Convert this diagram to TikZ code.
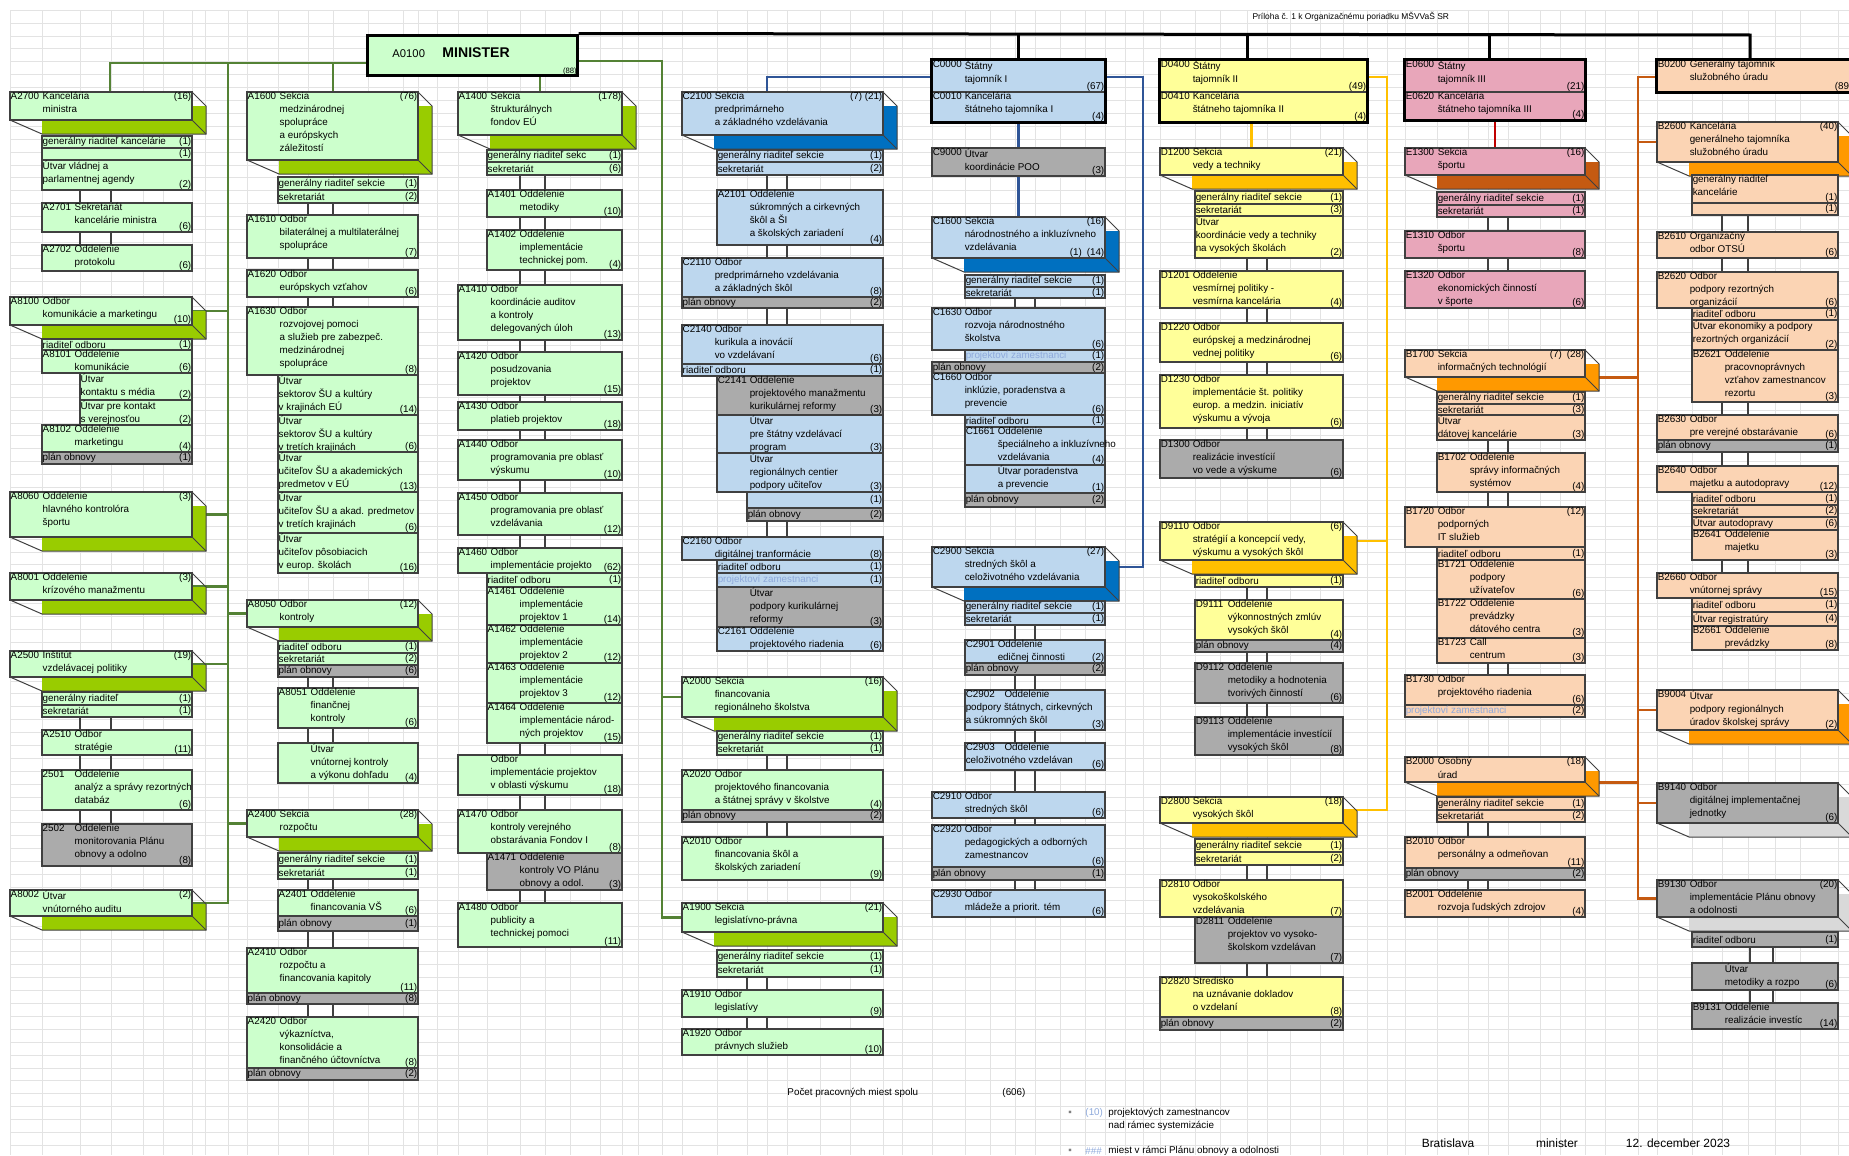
\documentclass[tikz,border=0pt]{standalone}
\usepackage{fontspec}
\setmainfont{Liberation Sans}
\usetikzlibrary{fit, positioning}

\definecolor{gfill}{HTML}{CCFFCC}
\definecolor{gslab}{HTML}{99CC00}
\definecolor{bfill}{HTML}{BDD7EE}
\definecolor{bslab}{HTML}{0070C0}
\definecolor{yfill}{HTML}{FFFF99}
\definecolor{yslab}{HTML}{FFC000}
\definecolor{pfill}{HTML}{E8A6BA}
\definecolor{pslab}{HTML}{C55A11}
\definecolor{ofill}{HTML}{FBD4B4}
\definecolor{oslab}{HTML}{FF9900}
\definecolor{kfill}{HTML}{ABABAB}
\definecolor{kslab}{HTML}{D9D9D9}
\definecolor{ucol}{HTML}{404040}
\definecolor{gridc}{HTML}{E3E3E3}
\definecolor{glinec}{HTML}{548235}
\definecolor{blinec}{HTML}{2F5597}
\definecolor{ylinec}{HTML}{FFC000}
\definecolor{rlinec}{HTML}{C00000}
\definecolor{olinec}{HTML}{C55A11}
\definecolor{projc}{HTML}{8EA9DB}

\pgfdeclarelayer{grid}
\pgfdeclarelayer{links}
\pgfsetlayers{grid,links,main}

\newcommand\ufont{\fontsize{14}{18.5}\selectfont}

% plain box: name, x1, y1, x2, y2, colour, code, text, count
\newcommand\orgbox[9]{%
  \node[ubox, fill=#6fill, fit={(#2,#3) (#4,#5)}] (#1) {};
  \if\relax\detokenize{#7}\relax
    \node[utext] (#1t) at (#1.north west) {#8};
  \else
    \node[ucode] (#1c) at (#1.north west) {#7};
    \node[utext] (#1t) at ([xshift=16mm]#1.north west) {#8};
  \fi
  \node[ucount] (#1n) at (#1.south east) {#9};}

% one line row: name, x1, y1, x2, y2, colour, text, count
\newcommand\orgrow[8]{%
  \node[ubox, fill=#6fill, fit={(#2,#3) (#4,#5)}] (#1) {};
  \node[utext, anchor=west] (#1t) at (#1.west) {#7};
  \node[ucount, anchor=east] (#1n) at (#1.east) {#8};}

% box with depth (sekcia)
\newcommand\cpos{north east}
\newcommand\orgsek{\renewcommand\cpos{north east}\orgsekdraw}
\newcommand\orgsekb{\renewcommand\cpos{south east}\orgsekdraw}
\newcommand\orgsekdraw[9]{%
  \fill[#6slab] (#2+32,#5) -- (#2+32,#5+14) -- (#4+14,#5+14) -- (#4+14,#3+14) -- (#4,#3+14) -- (#4,#5) -- cycle;
  \draw[uline] (#2,#5) -- (#2+32,#5+14) -- (#4+14,#5+14) -- (#4+14,#3+14) -- (#4,#3);
  \draw[uline] (#4,#5) -- (#4+14,#5+14);
  \node[ubox, fill=#6fill, fit={(#2,#3) (#4,#5)}] (#1) {};
  \node[ucode] (#1c) at (#1.north west) {#7};
  \node[utext] (#1t) at ([xshift=16mm]#1.north west) {#8};
  \node[ucount, anchor=\cpos] (#1n) at (#1.\cpos) {#9};}

% double link between two boxes
\newcommand\twolink[4]{%
  \draw[dlink] (#3,0 |- #1.south) -- (#3,0 |- #2.north) (#4,0 |- #1.south) -- (#4,0 |- #2.north);}

\begin{document}
\begin{tikzpicture}[x=0.5mm, y=-0.5mm,
    ubox/.style={draw=ucol, line width=0.6mm, inner sep=0pt, rectangle},
    utext/.style={anchor=north west, inner sep=0.6mm, align=left, font=\ufont},
    ucode/.style={anchor=north west, inner sep=0.6mm, font=\ufont},
    ucount/.style={anchor=south east, inner sep=0.6mm, font=\ufont},
    uline/.style={draw=ucol, line width=0.5mm},
    dlink/.style={draw=ucol, line width=0.6mm},
    bigbox/.style={draw=black, line width=1.5mm},
    topline/.style={draw=black, line width=1.5mm},
    gline/.style={draw=glinec, line width=1.2mm},
    bline/.style={draw=blinec, line width=1.2mm},
    yline/.style={draw=ylinec, line width=1.2mm},
    rline/.style={draw=rlinec, line width=1.2mm},
    oline/.style={draw=olinec, line width=1.2mm},
    gridl/.style={draw=gridc, line width=0.25mm},
    sfont/.style={font=\fontsize{12}{12}\selectfont},
    lfont/.style={font=\fontsize{14}{14}\selectfont},
    bfont/.style={font=\fontsize{17}{17}\selectfont}]

\useasboundingbox (0,0) rectangle (1849,1155);
\clip (0,0) rectangle (1849,1155);

\begin{pgfonlayer}{grid}
  \foreach \gx in {10,42,80,111,143,163,192,205,228,247,278,308,333,368,403,418,437,458,487,520,545,570,600,622,638,662,682,717,747,767,787,820,850,883,902,932,965,990,1015,1035,1060,1085,1105,1125,1143,1160,1195,1220,1247,1267,1290,1320,1343,1367,1387,1405,1437,1468,1488,1508,1540,1560,1585,1605,1638,1657,1692,1722,1748,1775,1800,1838}
    \draw[gridl] (\gx,10) -- (\gx,1155);
  \foreach \gy in {10,22.9,...,1155}
    \draw[gridl] (10,\gy) -- (1849,\gy);
\end{pgfonlayer}

\node[sfont, anchor=west] (title) at (1250,17) {Príloha č. 1 k Organizačnému poriadku MŠVVaŠ SR};

% minister
\node[bigbox, fill=gfill, inner sep=0pt, fit={(367,35) (577,75)}] (min) {};
\node[anchor=west, font=\fontsize{16}{16}\selectfont] (minc) at (390,54) {A0100};
\node[anchor=west, font=\bfseries\fontsize{20}{20}\selectfont] (mint) at (440,53) {MINISTER};
\node[anchor=south east, inner sep=0.8mm, font=\fontsize{11}{11}\selectfont] (minn) at (min.south east) {(88)};

% column 1
\orgsek{a2700}{10}{92}{192}{120}{g}{A2700}{Kancelária\\ministra}{(16)}
\orgrow{a2700r1}{42}{136}{192}{148}{g}{generálny riaditeľ kancelárie}{(1)}
\orgrow{a2700r2}{42}{148}{192}{160}{g}{}{(1)}
\orgbox{a2700u}{42}{160}{192}{190}{g}{}{Útvar vládnej a\\parlamentnej  agendy}{(2)}
\orgbox{a2701}{42}{203}{192}{232}{g}{A2701}{Sekretariát\\kancelárie ministra}{(6)}
\orgbox{a2702}{42}{245}{192}{271}{g}{A2702}{Oddelenie\\protokolu}{(6)}
\orgsekb{a8100}{10}{297}{192}{325}{g}{A8100}{Odbor\\komunikácie a marketingu}{(10)}
\orgrow{a8100r1}{42}{339}{192}{350}{g}{riaditeľ odboru}{(1)}
\orgbox{a8101}{42}{350}{192}{373}{g}{A8101}{Oddelenie\\komunikácie}{(6)}
\orgbox{a8101a}{80}{373}{192}{400}{g}{}{Útvar\\kontaktu s média}{(2)}
\orgbox{a8101b}{80}{400}{192}{425}{g}{}{Útvar pre kontakt\\s verejnosťou}{(2)}
\orgbox{a8102}{42}{425}{192}{452}{g}{A8102}{Oddelenie\\marketingu}{(4)}
\orgrow{a8102p}{42}{452}{192}{464}{k}{plán obnovy}{(1)}
\orgsek{a8060}{10}{492}{192}{537}{g}{A8060}{Oddelenie\\hlavného kontrolóra\\športu}{(3)}
\orgsek{a8001}{10}{573}{192}{600}{g}{A8001}{Oddelenie\\krízového manažmentu}{(3)}
\orgsek{a2500}{10}{651}{192}{677}{g}{A2500}{Inštitút\\vzdelávacej politiky}{(19)}
\orgrow{a2500r1}{42}{692}{192}{705}{g}{generálny riaditeľ}{(1)}
\orgrow{a2500r2}{42}{705}{192}{717}{g}{sekretariát}{(1)}
\orgbox{a2510}{42}{730}{192}{755}{g}{A2510}{Odbor\\stratégie}{(11)}
\orgbox{a2501}{42}{770}{192}{810}{g}{2501}{Oddelenie\\analýz a správy rezortných\\databáz}{(6)}
\orgbox{a2502}{42}{824}{192}{866}{k}{2502}{Oddelenie\\monitorovania Plánu\\obnovy a odolno}{(8)}
\orgsek{a8002}{10}{890}{192}{916}{g}{A8002}{Útvar\\vnútorného auditu}{(2)}
\twolink{a2700u}{a2701}{80}{111}
\twolink{a2701}{a2702}{80}{111}
\twolink{a2500r2}{a2510}{80}{111}
\twolink{a2510}{a2501}{80}{111}
\twolink{a2501}{a2502}{80}{111}

% column 2
\orgsek{a1600}{247}{92}{418}{160}{g}{A1600}{Sekcia\\medzinárodnej\\spolupráce\\a európskych\\záležitostí}{(76)}
\orgrow{a1600r1}{278}{177}{418}{190}{g}{generálny riaditeľ sekcie}{(1)}
\orgrow{a1600r2}{278}{190}{418}{203}{g}{sekretariát}{(2)}
\orgbox{a1610}{247}{215}{418}{258}{g}{A1610}{Odbor\\bilaterálnej a multilaterálnej\\spolupráce}{(7)}
\orgbox{a1620}{247}{270}{418}{297}{g}{A1620}{Odbor\\európskych vzťahov}{(6)}
\orgbox{a1630}{247}{307}{418}{375}{g}{A1630}{Odbor\\rozvojovej pomoci\\a služieb pre zabezpeč.\\medzinárodnej\\spolupráce}{(8)}
\orgbox{a1631}{278}{375}{418}{415}{g}{}{Útvar\\sektorov ŠU a kultúry\\v krajinách EÚ}{(14)}
\orgbox{a1632}{278}{415}{418}{452}{g}{}{Útvar\\sektorov ŠU a kultúry\\v tretích krajinách}{(6)}
\orgbox{a1633}{278}{452}{418}{492}{g}{}{Útvar\\učiteľov ŠU a akademických\\predmetov v EÚ}{(13)}
\orgbox{a1634}{278}{492}{418}{533}{g}{}{Útvar\\učiteľov ŠU a akad. predmetov\\v tretích krajinách}{(6)}
\orgbox{a1635}{278}{533}{418}{573}{g}{}{Útvar\\učiteľov pôsobiacich\\v europ. školách}{(16)}
\orgsek{a8050}{247}{600}{418}{627}{g}{A8050}{Odbor\\kontroly}{(12)}
\orgrow{a8050r1}{278}{641}{418}{653}{g}{riaditeľ odboru}{(1)}
\orgrow{a8050r2}{278}{653}{418}{665}{g}{sekretariát}{(2)}
\orgrow{a8050p}{278}{665}{418}{677}{k}{plán obnovy}{(6)}
\orgbox{a8051}{278}{688}{418}{728}{g}{A8051}{Oddelenie\\finančnej\\kontroly}{(6)}
\orgbox{a8052}{278}{743}{418}{783}{g}{~}{Útvar\\vnútornej kontroly\\a výkonu dohľadu}{(4)}
\orgsek{a2400}{247}{810}{418}{837}{g}{A2400}{Sekcia\\rozpočtu}{(28)}
\orgrow{a2400r1}{278}{853}{418}{866}{g}{generálny riaditeľ sekcie}{(1)}
\orgrow{a2400r2}{278}{866}{418}{879}{g}{sekretariát}{(1)}
\orgbox{a2401}{278}{890}{418}{916}{g}{A2401}{Oddelenie\\financovania VŠ}{(6)}
\orgrow{a2401p}{278}{916}{418}{931}{k}{plán obnovy}{(1)}
\orgbox{a2410}{247}{948}{418}{993}{g}{A2410}{Odbor\\rozpočtu a\\financovania kapitoly}{(11)}
\orgrow{a2410p}{247}{993}{418}{1004}{k}{plán obnovy}{(8)}
\orgbox{a2420}{247}{1017}{418}{1068}{g}{A2420}{Odbor\\výkazníctva,\\konsolidácie a\\finančného účtovníctva}{(8)}
\orgrow{a2420p}{247}{1068}{418}{1080}{k}{plán obnovy}{(2)}
\twolink{a1600r2}{a1610}{308}{333}
\twolink{a1610}{a1620}{308}{333}
\twolink{a1620}{a1630}{308}{333}
\twolink{a8050p}{a8051}{308}{333}
\twolink{a8051}{a8052}{308}{333}
\twolink{a2400r2}{a2401}{308}{333}
\twolink{a2401p}{a2410}{308}{333}
\twolink{a2410p}{a2420}{308}{333}

% column 3
\orgsek{a1400}{458}{92}{622}{135}{g}{A1400}{Sekcia\\štrukturálnych\\fondov EÚ}{(178)}
\orgrow{a1400r1}{487}{150}{622}{162}{g}{generálny riaditeľ sekc}{(1)}
\orgrow{a1400r2}{487}{162}{622}{175}{g}{sekretariát}{(6)}
\orgbox{a1401}{487}{190}{622}{217}{g}{A1401}{Oddelenie\\metodiky}{(10)}
\orgbox{a1402}{487}{230}{622}{270}{g}{A1402}{Oddelenie\\implementácie\\technickej pom.}{(4)}
\orgbox{a1410}{458}{285}{622}{340}{g}{A1410}{Odbor\\koordinácie auditov\\a kontroly\\delegovaných úloh}{(13)}
\orgbox{a1420}{458}{352}{622}{395}{g}{A1420}{Odbor\\posudzovania\\projektov}{(15)}
\orgbox{a1430}{458}{402}{622}{430}{g}{A1430}{Odbor\\platieb projektov}{(18)}
\orgbox{a1440}{458}{440}{622}{480}{g}{A1440}{Odbor\\programovania pre oblasť\\výskumu}{(10)}
\orgbox{a1450}{458}{493}{622}{535}{g}{A1450}{Odbor\\programovania pre oblasť\\vzdelávania}{(12)}
\orgbox{a1460}{458}{548}{622}{573}{g}{A1460}{Odbor\\implementácie projekto}{(62)}
\orgrow{a1460r1}{487}{573}{622}{587}{g}{riaditeľ odboru}{(1)}
\orgbox{a1461}{487}{587}{622}{625}{g}{A1461}{Oddelenie\\implementácie\\projektov 1}{(14)}
\orgbox{a1462}{487}{625}{622}{663}{g}{A1462}{Oddelenie\\implementácie\\projektov 2}{(12)}
\orgbox{a1463}{487}{663}{622}{703}{g}{A1463}{Oddelenie\\implementácie\\projektov 3}{(12)}
\orgbox{a1464}{487}{703}{622}{743}{g}{A1464}{Oddelenie\\implementácie národ-\\ných projektov}{(15)}
\orgbox{a1465}{458}{755}{622}{795}{g}{~}{Odbor\\implementácie projektov\\v oblasti výskumu}{(18)}
\orgbox{a1470}{458}{810}{622}{853}{g}{A1470}{Odbor\\kontroly verejného\\obstarávania Fondov I}{(8)}
\orgbox{a1471}{487}{853}{622}{890}{k}{A1471}{Oddelenie\\kontroly VO Plánu\\obnovy a odol.}{(3)}
\orgbox{a1480}{458}{903}{622}{947}{g}{A1480}{Odbor\\publicity a\\technickej pomoci}{(11)}
\twolink{a1400r2}{a1401}{520}{545}
\twolink{a1401}{a1402}{520}{545}
\twolink{a1402}{a1410}{520}{545}
\twolink{a1410}{a1420}{520}{545}
\twolink{a1420}{a1430}{520}{545}
\twolink{a1430}{a1440}{520}{545}
\twolink{a1440}{a1450}{520}{545}
\twolink{a1450}{a1460}{520}{545}
\twolink{a1464}{a1465}{520}{545}
\twolink{a1465}{a1470}{520}{545}
\twolink{a1471}{a1480}{520}{545}

% column 4
\orgsek{c2100}{682}{92}{883}{135}{b}{C2100}{Sekcia\\predprimárneho\\a základného vzdelávania}{(7) (21)}
\orgrow{c2100r1}{717}{150}{883}{162}{b}{generálny riaditeľ sekcie}{(1)}
\orgrow{c2100r2}{717}{162}{883}{175}{b}{sekretariát}{(2)}
\orgbox{c2101}{717}{190}{883}{245}{b}{A2101}{Oddelenie\\súkromných a cirkevných\\škôl a ŠI\\a školských zariadení}{(4)}
\orgbox{c2110}{682}{258}{883}{297}{b}{C2110}{Odbor\\predprimárneho vzdelávania\\a základných škôl}{(8)}
\orgrow{c2110p}{682}{297}{883}{308}{k}{plán obnovy}{(2)}
\orgbox{c2140}{682}{325}{883}{364}{b}{C2140}{Odbor\\kurikula a inovácií\\vo vzdelávaní}{(6)}
\orgrow{c2140r1}{682}{364}{883}{376}{b}{riaditeľ odboru}{(1)}
\orgbox{c2141}{717}{376}{883}{415}{k}{C2141}{Oddelenie\\projektového manažmentu\\kurikulárnej reformy}{(3)}
\orgbox{c2142}{717}{415}{883}{453}{b}{~}{Útvar\\pre štátny vzdelávací\\program}{(3)}
\orgbox{c2143}{717}{453}{883}{492}{b}{~}{Útvar\\regionálnych centier\\podpory učiteľov}{(3)}
\orgrow{c2143r}{747}{492}{883}{508}{b}{}{(1)}
\orgrow{c2143p}{747}{508}{883}{521}{k}{plán obnovy}{(2)}
\orgbox{c2160}{682}{537}{883}{560}{b}{C2160}{Odbor\\digitálnej tranformácie}{(8)}
\orgrow{c2160r1}{717}{560}{883}{573}{b}{riaditeľ odboru}{(1)}
\orgrow{c2160r2}{717}{573}{883}{587}{b}{\textcolor{projc}{projektoví zamestnanci}}{(1)}
\orgbox{c2162}{717}{587}{883}{627}{k}{~}{Útvar\\podpory kurikulárnej\\reformy}{(3)}
\orgbox{c2161}{717}{627}{883}{651}{b}{C2161}{Oddelenie\\projektového riadenia}{(6)}
\orgsek{a2000}{682}{677}{883}{717}{g}{A2000}{Sekcia\\financovania\\regionálneho školstva}{(16)}
\orgrow{a2000r1}{717}{731}{883}{743}{g}{generálny riaditeľ sekcie}{(1)}
\orgrow{a2000r2}{717}{743}{883}{755}{g}{sekretariát}{(1)}
\orgbox{a2020}{682}{770}{883}{810}{g}{A2020}{Odbor\\projektového financovania\\a štátnej správy v školstve}{(4)}
\orgrow{a2020p}{682}{810}{883}{822}{k}{plán obnovy}{(2)}
\orgbox{a2010}{682}{837}{883}{880}{g}{A2010}{Odbor\\financovania škôl a\\školských zariadení}{(9)}
\orgsek{a1900}{682}{903}{883}{932}{g}{A1900}{Sekcia\\legislatívno-právna}{(21)}
\orgrow{a1900r1}{717}{950}{883}{963}{g}{generálny riaditeľ sekcie}{(1)}
\orgrow{a1900r2}{717}{963}{883}{977}{g}{sekretariát}{(1)}
\orgbox{a1910}{682}{990}{883}{1017}{g}{A1910}{Odbor\\legislatívy}{(9)}
\orgbox{a1920}{682}{1029}{883}{1055}{g}{A1920}{Odbor\\právnych služieb}{(10)}
\twolink{c2100r2}{c2101}{767}{787}
\twolink{c2101}{c2110}{767}{787}
\twolink{c2110p}{c2140}{767}{787}
\twolink{c2143p}{c2160}{767}{787}
\twolink{a2000r2}{a2020}{767}{787}
\twolink{a2020p}{a2010}{767}{787}
\twolink{a1900r2}{a1910}{747}{767}
\twolink{a1910}{a1920}{747}{767}

% column 5
\orgbox{c0000}{932}{60}{1105}{92}{b}{C0000}{Štátny\\tajomník I}{(67)}
\orgbox{c0010}{932}{92}{1105}{122}{b}{C0010}{Kancelária\\štátneho tajomníka I}{(4)}
\draw[bigbox] (c0000.north west) rectangle (c0010.south east);
\orgbox{c9000}{932}{148}{1105}{176}{k}{C9000}{Útvar\\koordinácie POO}{(3)}
\orgsek{c1600}{932}{217}{1105}{258}{b}{C1600}{Sekcia\\národnostného a inkluzívneho\\vzdelávania}{(16)}
\node[ucount] (c1600m) at (c1600.south east) {(1)\enspace(14)};
\orgrow{c1600r1}{965}{275}{1105}{287}{b}{generálny riaditeľ sekcie}{(1)}
\orgrow{c1600r2}{965}{287}{1105}{298}{b}{sekretariát}{(1)}
\orgbox{c1630}{932}{308}{1105}{350}{b}{C1630}{Odbor\\rozvoja národnostného\\školstva}{(6)}
\orgrow{c1630r}{965}{350}{1105}{362}{b}{\textcolor{projc}{projektoví zamestnanci}}{(1)}
\orgrow{c1630p}{932}{362}{1105}{373}{k}{plán obnovy}{(2)}
\orgbox{c1660}{932}{373}{1105}{415}{b}{C1660}{Odbor\\inklúzie, poradenstva a\\prevencie}{(6)}
\orgrow{c1660r}{965}{415}{1105}{427}{b}{riaditeľ odboru}{(1)}
\orgbox{c1661}{965}{427}{1105}{465}{b}{C1661}{Oddelenie\\špeciálneho a inkluzívneho\\vzdelávania}{(4)}
\orgbox{c1662}{965}{465}{1105}{493}{b}{~}{Útvar poradenstva\\a prevencie}{(1)}
\orgrow{c1660p}{965}{493}{1105}{507}{k}{plán obnovy}{(2)}
\orgsek{c2900}{932}{547}{1105}{587}{b}{C2900}{Sekcia\\stredných škôl a\\celoživotného vzdelávania}{(27)}
\orgrow{c2900r1}{965}{601}{1105}{613}{b}{generálny riaditeľ sekcie}{(1)}
\orgrow{c2900r2}{965}{613}{1105}{625}{b}{sekretariát}{(1)}
\orgbox{c2901}{965}{640}{1105}{663}{b}{C2901}{Oddelenie\\edičnej činnosti}{(2)}
\orgrow{c2901p}{965}{663}{1105}{675}{k}{plán obnovy}{(2)}
\orgbox{c2902}{965}{690}{1105}{730}{b}{}{C2902\quad Oddelenie\\podpory štátnych, cirkevných\\a súkromných škôl}{(3)}
\orgbox{c2903}{965}{743}{1105}{770}{b}{}{C2903\quad Oddelenie\\celoživotného vzdelávan}{(6)}
\orgbox{c2910}{932}{792}{1105}{818}{b}{C2910}{Odbor\\stredných škôl}{(6)}
\orgbox{c2920}{932}{825}{1105}{867}{b}{C2920}{Odbor\\pedagogických a odborných\\zamestnancov}{(6)}
\orgrow{c2920p}{932}{867}{1105}{880}{k}{plán obnovy}{(1)}
\orgbox{c2930}{932}{890}{1105}{917}{b}{C2930}{Odbor\\mládeže a priorit. tém}{(6)}
\twolink{c1600r2}{c1630}{1015}{1035}
\twolink{c2900r2}{c2901}{1015}{1035}
\twolink{c2901p}{c2902}{1015}{1035}
\twolink{c2902}{c2903}{1015}{1035}
\twolink{c2903}{c2910}{1015}{1035}
\twolink{c2910}{c2920}{1015}{1035}
\twolink{c2920p}{c2930}{1015}{1035}

% column 6
\orgbox{d0400}{1160}{60}{1367}{92}{y}{D0400}{Štátny\\tajomník II}{(49)}
\orgbox{d0410}{1160}{92}{1367}{122}{y}{D0410}{Kancelária\\štátneho tajomníka II}{(4)}
\draw[bigbox] (d0400.north west) rectangle (d0410.south east);
\orgsek{d1200}{1160}{148}{1343}{175}{y}{D1200}{Sekcia\\vedy a techniky}{(21)}
\orgrow{d1200r1}{1195}{191}{1343}{204}{y}{generálny riaditeľ sekcie}{(1)}
\orgrow{d1200r2}{1195}{204}{1343}{216}{y}{sekretariát}{(3)}
\orgbox{d1202}{1195}{216}{1343}{258}{y}{}{Útvar\\koordinácie vedy a techniky\\na vysokých školách}{(2)}
\orgbox{d1201}{1160}{271}{1343}{308}{y}{D1201}{Oddelenie\\vesmírnej politiky -\\vesmírna kancelária}{(4)}
\orgbox{d1220}{1160}{323}{1343}{362}{y}{D1220}{Odbor\\európskej a medzinárodnej\\vednej politiky}{(6)}
\orgbox{d1230}{1160}{375}{1343}{428}{y}{D1230}{Odbor\\implementácie št. politiky\\europ. a medzin. iniciatív\\výskumu a vývoja}{(6)}
\orgbox{d1300}{1160}{440}{1343}{478}{k}{D1300}{Odbor\\realizácie investícií\\vo vede a výskume}{(6)}
\orgsek{d9110}{1160}{522}{1343}{560}{y}{D9110}{Odbor\\stratégií a koncepcií vedy,\\výskumu a vysokých škôl}{(6)}
\orgrow{d9110r}{1195}{575}{1343}{587}{y}{riaditeľ odboru}{(1)}
\orgbox{d9111}{1195}{600}{1343}{640}{y}{D9111}{Oddelenie\\výkonnostných zmlúv\\vysokých škôl}{(4)}
\orgrow{d9111p}{1195}{640}{1343}{652}{k}{plán obnovy}{(4)}
\orgbox{d9112}{1195}{663}{1343}{703}{k}{D9112}{Oddelenie\\metodiky a hodnotenia\\tvorivých činností}{(6)}
\orgbox{d9113}{1195}{717}{1343}{755}{k}{D9113}{Oddelenie\\implementácie investícií\\vysokých škôl}{(8)}
\orgsek{d2800}{1160}{797}{1343}{823}{y}{D2800}{Sekcia\\vysokých škôl}{(18)}
\orgrow{d2800r1}{1195}{839}{1343}{852}{y}{generálny riaditeľ sekcie}{(1)}
\orgrow{d2800r2}{1195}{852}{1343}{865}{y}{sekretariát}{(2)}
\orgbox{d2810}{1160}{880}{1343}{917}{y}{D2810}{Odbor\\vysokoškolského\\vzdelávania}{(7)}
\orgbox{d2811}{1195}{917}{1343}{963}{k}{D2811}{Oddelenie\\projektov vo vysoko-\\školskom vzdelávan}{(7)}
\orgbox{d2820}{1160}{977}{1343}{1017}{y}{D2820}{Stredisko\\na uznávanie dokladov\\o vzdelaní}{(8)}
\orgrow{d2820p}{1160}{1017}{1343}{1030}{k}{plán obnovy}{(2)}
\twolink{d1202}{d1201}{1247}{1267}
\twolink{d1201}{d1220}{1247}{1267}
\twolink{d1220}{d1230}{1247}{1267}
\twolink{d1230}{d1300}{1247}{1267}
\twolink{d9110r}{d9111}{1247}{1267}
\twolink{d9111p}{d9112}{1247}{1267}
\twolink{d9112}{d9113}{1247}{1267}
\twolink{d2800r2}{d2810}{1247}{1267}
\twolink{d2811}{d2820}{1247}{1267}

% column 7
\orgbox{e0600}{1405}{60}{1585}{92}{p}{E0600}{Štátny\\tajomník III}{(21)}
\orgbox{e0620}{1405}{92}{1585}{120}{p}{E0620}{Kancelária\\štátneho tajomníka III}{(4)}
\draw[bigbox] (e0600.north west) rectangle (e0620.south east);
\orgsek{e1300}{1405}{148}{1585}{175}{p}{E1300}{Sekcia\\športu}{(16)}
\orgrow{e1300r1}{1437}{192}{1585}{205}{p}{generálny riaditeľ sekcie}{(1)}
\orgrow{e1300r2}{1437}{205}{1585}{217}{p}{sekretariát}{(1)}
\orgbox{e1310}{1405}{231}{1585}{258}{p}{E1310}{Odbor\\športu}{(8)}
\orgbox{e1320}{1405}{271}{1585}{308}{p}{E1320}{Odbor\\ekonomických činností\\v športe}{(6)}
\orgsek{b1700}{1405}{350}{1585}{377}{o}{B1700}{Sekcia\\informačných technológií}{(7)\enspace(28)}
\orgrow{b1700r1}{1437}{392}{1585}{404}{o}{generálny riaditeľ sekcie}{(1)}
\orgrow{b1700r2}{1437}{404}{1585}{415}{o}{sekretariát}{(3)}
\orgbox{b1701}{1437}{415}{1585}{440}{o}{}{Útvar\\dátovej kancelárie}{(3)}
\orgbox{b1702}{1437}{453}{1585}{492}{o}{B1702}{Oddelenie\\správy informačných\\systémov}{(4)}
\orgbox{b1720}{1405}{507}{1585}{547}{o}{B1720}{Odbor\\podporných\\IT služieb}{}
\node[ucount, anchor=north east] (b1720m) at (b1720.north east) {(12)};
\orgrow{b1720r}{1437}{547}{1585}{560}{o}{riaditeľ odboru}{(1)}
\orgbox{b1721}{1437}{560}{1585}{599}{o}{B1721}{Oddelenie\\podpory\\užívateľov}{(6)}
\orgbox{b1722}{1437}{599}{1585}{638}{o}{B1722}{Oddelenie\\prevádzky\\dátového centra}{(3)}
\orgbox{b1723}{1437}{638}{1585}{663}{o}{B1723}{Call\\centrum}{(3)}
\orgbox{b1730}{1405}{675}{1585}{705}{o}{B1730}{Odbor\\projektového riadenia}{(6)}
\orgrow{b1730r}{1405}{705}{1585}{717}{o}{\textcolor{projc}{projektoví zamestnanci}}{(2)}
\orgsek{b2000}{1405}{757}{1585}{782}{o}{B2000}{Osobný\\úrad}{(18)}
\orgrow{b2000r1}{1437}{797}{1585}{810}{o}{generálny riaditeľ sekcie}{(1)}
\orgrow{b2000r2}{1437}{810}{1585}{822}{o}{sekretariát}{(2)}
\orgbox{b2010}{1405}{837}{1585}{868}{o}{B2010}{Odbor\\personálny a odmeňovan}{(11)}
\orgrow{b2010p}{1405}{868}{1585}{880}{k}{plán obnovy}{(2)}
\orgbox{b2001}{1405}{890}{1585}{917}{o}{B2001}{Oddelenie\\rozvoja ľudských zdrojov}{(4)}
\twolink{e1300r2}{e1310}{1488}{1508}
\twolink{e1310}{e1320}{1488}{1508}
\twolink{b1701}{b1702}{1488}{1508}
\twolink{b1702}{b1720}{1488}{1508}
\twolink{b1723}{b1730}{1488}{1508}
\twolink{b2000r2}{b2010}{1468}{1488}
\twolink{b2010p}{b2001}{1468}{1488}

% column 8
\orgbox{b0200}{1657}{60}{1853}{92}{o}{B0200}{Generálny tajomník\\služobného úradu}{(89)\hspace{7mm}}
\draw[bigbox] (b0200.north west) rectangle (b0200.south east);
\orgsek{b2600}{1657}{122}{1838}{162}{o}{B2600}{Kancelária\\generálneho tajomníka\\služobného úradu}{(40)}
\orgbox{b2601}{1692}{175}{1838}{203}{o}{}{generálny riaditeľ\\kancelárie}{(1)}
\orgrow{b2601r}{1692}{203}{1838}{215}{o}{}{(1)}
\orgbox{b2610}{1657}{232}{1838}{258}{o}{B2610}{Organizačný\\odbor OTSÚ}{(6)}
\orgbox{b2620}{1657}{272}{1838}{308}{o}{B2620}{Odbor\\podpory rezortných\\organizácií}{(6)}
\orgrow{b2620r}{1692}{308}{1838}{320}{o}{riaditeľ odboru}{(1)}
\orgbox{b2622}{1692}{320}{1838}{350}{o}{}{Útvar ekonomiky a podpory\\rezortných organizácií}{(2)}
\orgbox{b2621}{1692}{350}{1838}{402}{o}{B2621}{Oddelenie\\pracovnoprávnych\\vzťahov zamestnancov\\rezortu}{(3)}
\orgbox{b2630}{1657}{415}{1838}{440}{o}{B2630}{Odbor\\pre verejné obstarávanie}{(6)}
\orgrow{b2630p}{1657}{440}{1838}{452}{k}{plán obnovy}{(1)}
\orgbox{b2640}{1657}{466}{1838}{492}{o}{B2640}{Odbor\\majetku a autodopravy}{(12)}
\orgrow{b2640r1}{1692}{492}{1838}{505}{o}{riaditeľ odboru}{(1)}
\orgrow{b2640r2}{1692}{505}{1838}{517}{o}{sekretariát}{(2)}
\orgrow{b2640r3}{1692}{517}{1838}{530}{o}{Útvar autodopravy}{(6)}
\orgbox{b2641}{1692}{530}{1838}{560}{o}{B2641}{Oddelenie\\majetku}{(3)}
\orgbox{b2660}{1657}{573}{1838}{598}{o}{B2660}{Odbor\\vnútornej správy}{(15)}
\orgrow{b2660r1}{1692}{598}{1838}{612}{o}{riaditeľ odboru}{(1)}
\orgrow{b2660r2}{1692}{612}{1838}{626}{o}{Útvar registratúry}{(4)}
\orgbox{b2661}{1692}{626}{1838}{650}{o}{B2661}{Oddelenie\\prevádzky}{(8)}
\orgsekb{b9004}{1657}{690}{1838}{730}{o}{B9004}{Útvar\\podpory regionálnych\\úradov školskej správy}{(2)}
\orgsekb{b9140}{1657}{783}{1838}{823}{k}{B9140}{Odbor\\digitálnej implementačnej\\jednotky}{(6)}
\orgsek{b9130}{1657}{880}{1838}{917}{k}{B9130}{Odbor\\implementácie Plánu obnovy\\a odolnosti}{(20)}
\orgrow{b9130r}{1692}{932}{1838}{947}{k}{riaditeľ odboru}{(1)}
\orgbox{b9132}{1692}{963}{1838}{990}{k}{~}{Útvar\\metodiky a rozpo}{(6)}
\orgbox{b9131}{1692}{1003}{1838}{1029}{k}{B9131}{Oddelenie\\realizácie investíc}{(14)}
\twolink{b2601r}{b2610}{1722}{1748}
\twolink{b2610}{b2620}{1722}{1748}
\twolink{b2621}{b2630}{1722}{1748}
\twolink{b2630p}{b2640}{1722}{1748}
\twolink{b2641}{b2660}{1722}{1748}
\twolink{b9130r}{b9132}{1750}{1773}
\twolink{b9132}{b9131}{1750}{1773}

% connectors between the parts
\coordinate (top) at (1750,35);
\coordinate (gtop) at (110,63);
\coordinate (gl) at (228,63);
\coordinate (gm) at (333,63);
\coordinate (gr) at (662,61);
\coordinate (bl) at (767,77);
\coordinate (br) at (1143,77);
\coordinate (yr) at (1387,77);
\coordinate (oc) at (1638,77);
\begin{pgfonlayer}{links}
  \draw[topline] (min.north east) -- (top) -- (top |- b0200.north);
  \draw[topline] (c0000.north) -- (c0000.north |- top);
  \draw[topline] ([xshift=-8mm]d0400.north) -- ([xshift=-8mm]d0400.north |- top);
  \draw[topline] ([xshift=-3mm]e0600.north) -- ([xshift=-3mm]e0600.north |- top);
  % green
  \draw[gline] (gtop -| min.west) -- (gtop) -- (gtop |- a2700.north);
  \draw[gline] (gm) -- (gm |- a1600.north);
  \draw[gline] (gl) -- (gl |- a8002.east) -- (a8002.east);
  \foreach \n in {a8100,a8060,a8001,a2500}
    \draw[gline] (gl |- \n.east) -- (\n.east);
  \foreach \n in {a8050,a2400}
    \draw[gline] (gl |- \n.west) -- (\n.west);
  \draw[gline] (min.south -| a1400.north) -- (a1400.north);
  \draw[gline] (gr -| min.east) -- (gr) -- (gr |- a1900.west) -- (a1900.west);
  \draw[gline] (gr |- a2000.west) -- (a2000.west);
  % blue
  \draw[bline] (c0000.west |- bl) -- (bl) -- (bl |- c2100.north);
  \draw[bline] (c0000.east |- br) -- (br) -- (br |- c2900.east) -- (c2900.east);
  \draw[bline] (c0010.south) -- (c9000.north);
  \draw[bline] (c9000.south) -- (c1600.north);
  % yellow
  \draw[yline] (d0400.east |- yr) -- (yr) -- (yr |- d2800.east) -- (d2800.east);
  \draw[yline] (yr |- d9110.east) -- (d9110.east);
  \draw[yline] (d1200.north |- d0410.south) -- (d1200.north);
  % red
  \draw[rline] (e1300.north |- e0620.south) -- (e1300.north);
  % orange
  \draw[oline] (b0200.west |- oc) -- (oc) -- (oc |- b9130.west) -- (b9130.west);
  \foreach \n in {b2600,b9004,b9140}
    \draw[oline] (oc |- \n.west) -- (\n.west);
  \foreach \n in {b1700,b2000}
    \draw[oline] (oc |- \n.south east) -- (\n.south east);
\end{pgfonlayer}

% footer
\node[lfont, anchor=west] (total) at (785,1093) {Počet pracovných miest spolu};
\node[lfont, anchor=west] (totaln) at (1000,1093) {(606)};
\node[lfont, anchor=west, text=gray] (lg1b) at (1066,1113) {▪};
\node[lfont, anchor=west, text=projc] (lg1n) at (1083,1113) {(10)};
\node[lfont, anchor=west] (lg1t) at (1106,1113) {projektových zamestnancov};
\node[lfont, anchor=west] (lg1u) at (1106,1126) {nad rámec systemizácie};
\node[lfont, anchor=west, text=gray] (lg2b) at (1066,1151) {▪};
\node[lfont, anchor=west, text=projc] (lg2n) at (1083,1151) {\#\#\#};
\node[lfont, anchor=west] (lg2t) at (1106,1151) {miest v rámci Plánu obnovy a odolnosti};
\node[bfont] (place) at (1448,1143) {Bratislava};
\node[bfont] (sign) at (1557,1143) {minister};
\node[bfont] (date) at (1678,1143) {12. december 2023};
\end{tikzpicture}
\end{document}
